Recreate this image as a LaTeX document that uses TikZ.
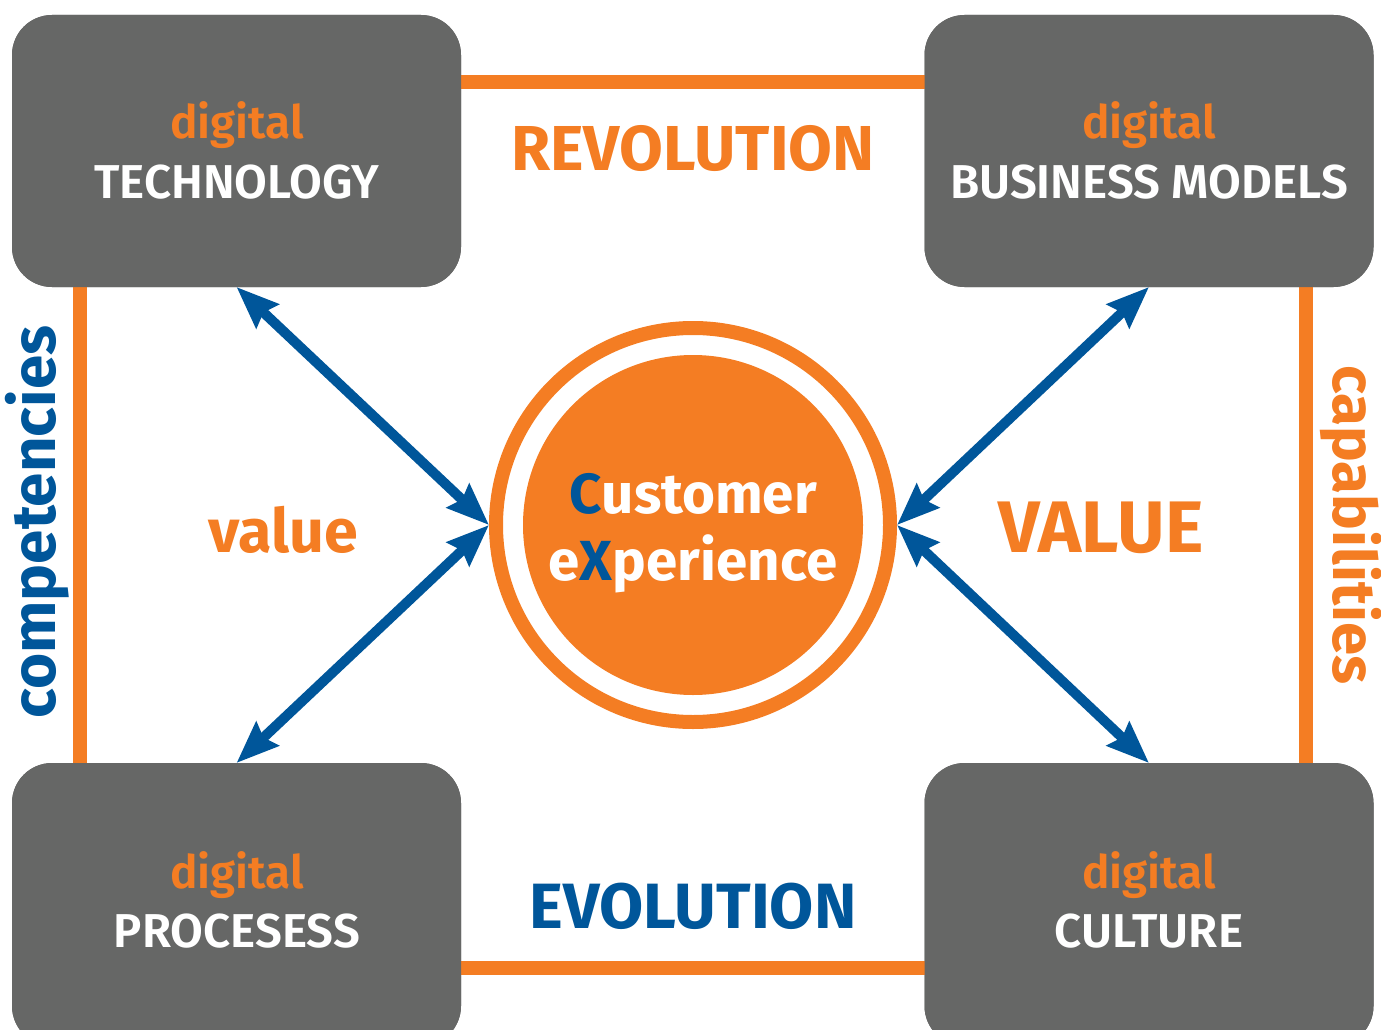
\documentclass[tikz,border=0pt]{standalone}
\usepackage{fontspec}
\setmainfont{Fira Sans}[UprightFont=* SemiBold, BoldFont=* Bold]
\usetikzlibrary{arrows.meta,calc}
\definecolor{corange}{HTML}{F47D23}
\definecolor{cgray}{HTML}{666766}
\definecolor{cblue}{HTML}{00569A}
\tikzset{
  box/.style={rectangle, rounded corners=40pt, fill=cgray, minimum width=449pt, inner sep=0pt, outer sep=0pt},
  topbox/.style={box, minimum height=272pt},
  botbox/.style={box, minimum height=283pt},
  dig/.style={anchor=base, text=corange, font=\fontsize{46}{50}\selectfont, inner sep=0pt},
  wlab/.style={anchor=base, text=white, font=\fontsize{47.5}{52}\selectfont, inner sep=0pt},
  oline/.style={draw=corange, line width=14pt},
  barrow/.style={draw=cblue, line width=10pt, {Stealth[length=42pt,width=32pt,inset=5pt]}-{Stealth[length=42pt,width=32pt,inset=5pt]}},
  big/.style={anchor=base, inner sep=0pt, font=\bfseries\fontsize{63.5}{68}\selectfont},
  side/.style={anchor=base, inner sep=0pt, font=\bfseries\fontsize{62}{66}\selectfont},
  cxtext/.style={anchor=base, inner sep=0pt, text=white, font=\bfseries\fontsize{56.5}{60}\selectfont},
}
\begin{document}
\begin{tikzpicture}[x=1pt,y=-1pt]
\useasboundingbox (0,0) rectangle (1381,1030);
\clip (0,0) rectangle (1381,1030);
% coordinates for orange frame lines
\coordinate (topline) at (693,82);
\coordinate (botline) at (693,968);
\coordinate (leftline) at (80,525);
\coordinate (rightline) at (1306,525);
% boxes (placed first to get anchors)
\node[topbox] (tl) at (236.5,151) {};
\node[topbox] (tr) at (1149,151) {};
\node[botbox] (bl) at (236.5,904.5) {};
\node[botbox] (br) at (1149,904.5) {};
% frame lines
\draw[oline] ($(tl.east |- topline)+(-20,0)$) -- ($(tr.west |- topline)+(20,0)$);
\draw[oline] ($(bl.east |- botline)+(-20,0)$) -- ($(br.west |- botline)+(20,0)$);
\draw[oline] ($(tl.south -| leftline)+(0,-20)$) -- ($(bl.north -| leftline)+(0,20)$);
\draw[oline] ($(tr.south -| rightline)+(0,-20)$) -- ($(br.north -| rightline)+(0,20)$);
% boxes drawn again over the line ends
\node[topbox] (tl2) at (tl) {};
\node[topbox] (tr2) at (tr) {};
\node[botbox] (bl2) at (bl) {};
\node[botbox] (br2) at (br) {};
% box texts
\node[dig] (tld) at (237,139) {digital};
\node[wlab] (tlt) at (237,198) {TECHNOLOGY};
\node[dig] (trd) at (1149,139) {digital};
\node[wlab] (trt) at (1149,198) {BUSINESS MODELS};
\node[dig] (bld) at (237,888) {digital};
\node[wlab] (blt) at (237,947) {PROCESESS};
\node[dig] (brd) at (1149,888) {digital};
\node[wlab] (brt) at (1149,947) {CULTURE};
% circle
\node[circle, draw=corange, line width=14pt, minimum size=394pt, inner sep=0pt] (cx) at (693,525) {};
\node[circle, fill=corange, minimum size=340pt, inner sep=0pt] (cin) at (693,525) {};
\node[cxtext] (cust) at (693,513) {{\color{cblue}C}ustomer};
\node[cxtext] (expe) at (693,580) {e{\color{cblue}X}perience};
% labels
\node[big, text=corange] (rev) at (693,171) {REVOLUTION};
\node[big, text=cblue, font=\bfseries\fontsize{64}{68}\selectfont] (evo) at (693,928) {EVOLUTION};
\node[side, text=corange, font=\bfseries\fontsize{61}{66}\selectfont] (val) at (283,552) {value};
\node[side, text=corange, font=\bfseries\fontsize{73}{78}\selectfont] (VAL) at (1101,552) {VALUE};
\node[side, text=cblue, rotate=90] (comp) at (55,522) {competencies};
\node[side, text=corange, rotate=-90, font=\bfseries\fontsize{60}{64}\selectfont] (capa) at (1333,525) {capabilities};
% arrows
\draw[barrow] (tl.south) -- (cx.west);
\draw[barrow] (bl.north) -- (cx.west);
\draw[barrow] (tr.south) -- (cx.east);
\draw[barrow] (br.north) -- (cx.east);
\end{tikzpicture}
\end{document}
